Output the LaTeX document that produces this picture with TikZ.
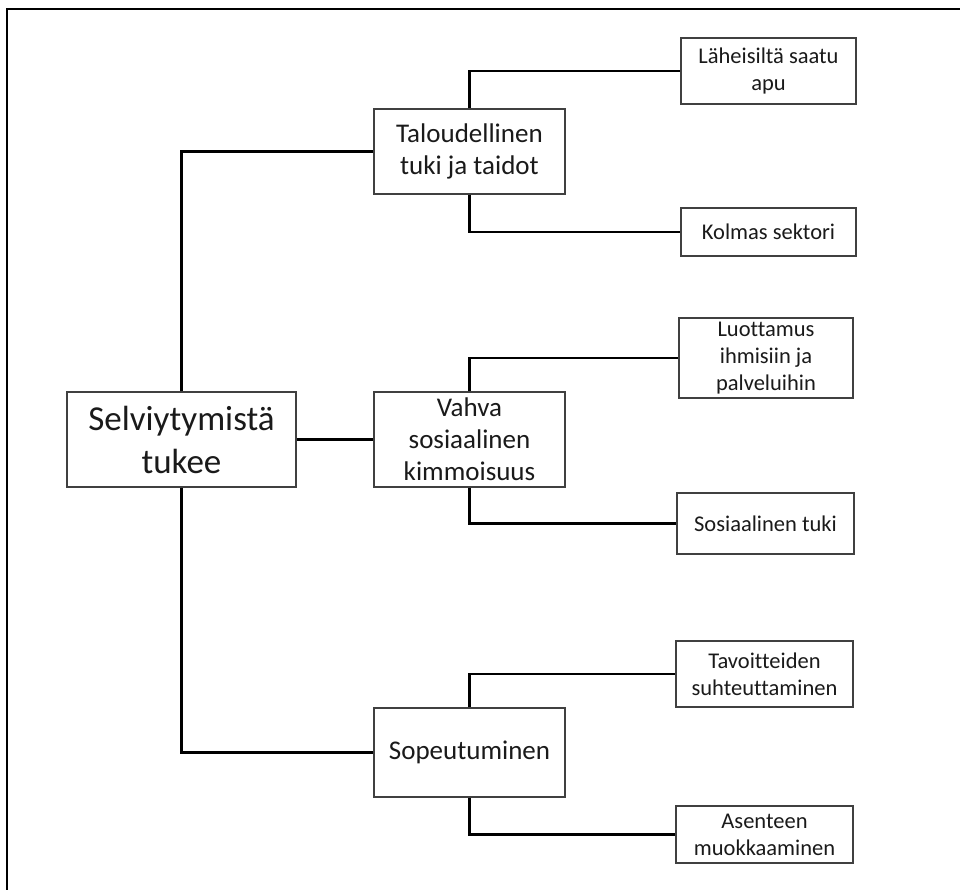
\documentclass[tikz,border=0pt]{standalone}
\usepackage{fontspec}
\setmainfont[Ligatures=NoCommon]{Carlito}
\usepackage{tikz}
\usepackage{xcolor}
\definecolor{boxline}{HTML}{404040}
\definecolor{inktext}{HTML}{1A1A1A}
\tikzset{
    plain-box/.style = {draw=boxline, fill=white, line width=1.2pt, rectangle, align=center, inner sep=0pt, text=inktext},
    root-box/.style = {plain-box, minimum width=229pt, minimum height=95pt, font=\fontsize{35}{43}\selectfont},
    mid-box/.style = {plain-box, minimum width=191pt, font=\fontsize{27}{32}\selectfont},
    leaf-box/.style = {plain-box, font=\fontsize{22.5}{27}\selectfont},
    branch-line/.style = {draw=black, line width=2.5pt},
}

\begin{document}
\begin{tikzpicture}[x=1pt, y=-1pt]
\useasboundingbox (0,0) rectangle (960,890);
\draw[line width=2pt] (7,890) -- (7,9) -- (960,9);

\node [root-box] (root) at (181.5,439.5) {Selviytymistä\\tukee};

\node [mid-box, minimum height=85pt] (tal) at (469.5,151.5) {Taloudellinen\\tuki ja taidot};
\node [mid-box, minimum height=95pt] (vah) at (469.5,439.5) {Vahva\\sosiaalinen\\kimmoisuus};
\node [mid-box, minimum height=89pt] (sop) at (469.5,752.5) {Sopeutuminen};

\node [leaf-box, minimum width=175pt, minimum height=66pt] (lah) at (768.5,71) {Läheisiltä saatu\\apu};
\node [leaf-box, minimum width=175pt, minimum height=48pt] (kol) at (768.5,232) {Kolmas sektori};
\node [leaf-box, minimum width=174pt, minimum height=80pt] (luo) at (766,358) {Luottamus\\ihmisiin ja\\palveluihin};
\node [leaf-box, minimum width=177pt, minimum height=61pt] (sos) at (765.5,523.5) {Sosiaalinen tuki};
\node [leaf-box, minimum width=177pt, minimum height=66pt] (tav) at (764.5,674) {Tavoitteiden\\suhteuttaminen};
\node [leaf-box, minimum width=177pt, minimum height=57pt] (ase) at (764.5,834.5) {Asenteen\\muokkaaminen};

% root to the three branches
\draw [branch-line] (root.north) |- (tal.west);
\draw [branch-line] (root.east) -- (vah.west);
\draw [branch-line] (root.south) |- (sop.west);

% branches to leaves
\draw [branch-line] (tal.north) |- (lah.west);
\draw [branch-line] (tal.south) |- (kol.west);
\draw [branch-line] (vah.north) |- (luo.west);
\draw [branch-line] (vah.south) |- (sos.west);
\draw [branch-line] (sop.north) |- (tav.west);
\draw [branch-line] (sop.south) |- (ase.west);
\end{tikzpicture}
\end{document}
